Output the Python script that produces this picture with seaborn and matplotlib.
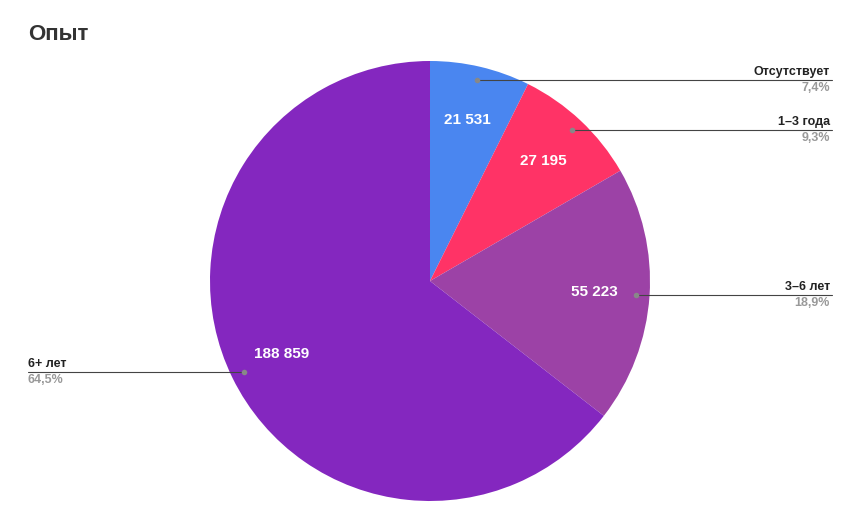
import matplotlib
matplotlib.use("Agg")
import matplotlib.pyplot as plt
import seaborn as sns
import numpy as np

categories = ["Отсутствует", "1–3 года", "3–6 лет", "6+ лет"]
values = [21531, 27195, 55223, 188859]
percents = ["7,4%", "9,3%", "18,9%", "64,5%"]
colors = ["#4a86f0", "#ff3366", "#9c42a6", "#8427bf"]

sns.set_theme(style="white")
plt.rcParams['font.family'] = ['Liberation Sans', 'DejaVu Sans']

fig = plt.figure(figsize=(8.6, 5.09), dpi=100)
ax = fig.add_axes([0, 0, 1, 1])
ax.set_xlim(0, 860)
ax.set_ylim(0, 509)
ax.set_aspect("equal")
ax.axis("off")

cx, cy, R = 430, 228, 220
wedges, texts, autotexts = ax.pie(
    values, colors=colors, startangle=90, counterclock=False,
    center=(cx, cy), radius=R, pctdistance=0.75,
    autopct=lambda p: f"{round(p * sum(values) / 100):,}".replace(",", " "),
    wedgeprops=dict(linewidth=0),
    textprops=dict(color="white", fontsize=11, fontweight="bold"))
ax.set_xlim(0, 860)
ax.set_ylim(0, 509)

for i, w in enumerate(wedges):
    ang = np.deg2rad((w.theta1 + w.theta2) / 2)
    px = cx + 0.94 * R * np.cos(ang)
    py = cy + 0.94 * R * np.sin(ang)
    ax.plot(px, py, "o", color="#888888", markersize=3, zorder=5)
    if np.cos(ang) > 0:
        ax.plot([px, 832], [py, py], color="#444444", lw=0.8, zorder=4)
        ax.text(830, py + 2, categories[i], ha="right", va="bottom", fontsize=9, fontweight="bold", color="#222222")
        ax.text(830, py - 2, percents[i], ha="right", va="top", fontsize=9, fontweight="bold", color="#999999")
    else:
        ax.plot([28, px], [py, py], color="#444444", lw=0.8, zorder=4)
        ax.text(28, py + 2, categories[i], ha="left", va="bottom", fontsize=9, fontweight="bold", color="#222222")
        ax.text(28, py - 2, percents[i], ha="left", va="top", fontsize=9, fontweight="bold", color="#999999")

fig.text(28 / 860, 1 - 35 / 509, "Опыт", fontsize=16, fontweight="bold", color="#333333", va="center")
fig.savefig("out.png", dpi=100)
